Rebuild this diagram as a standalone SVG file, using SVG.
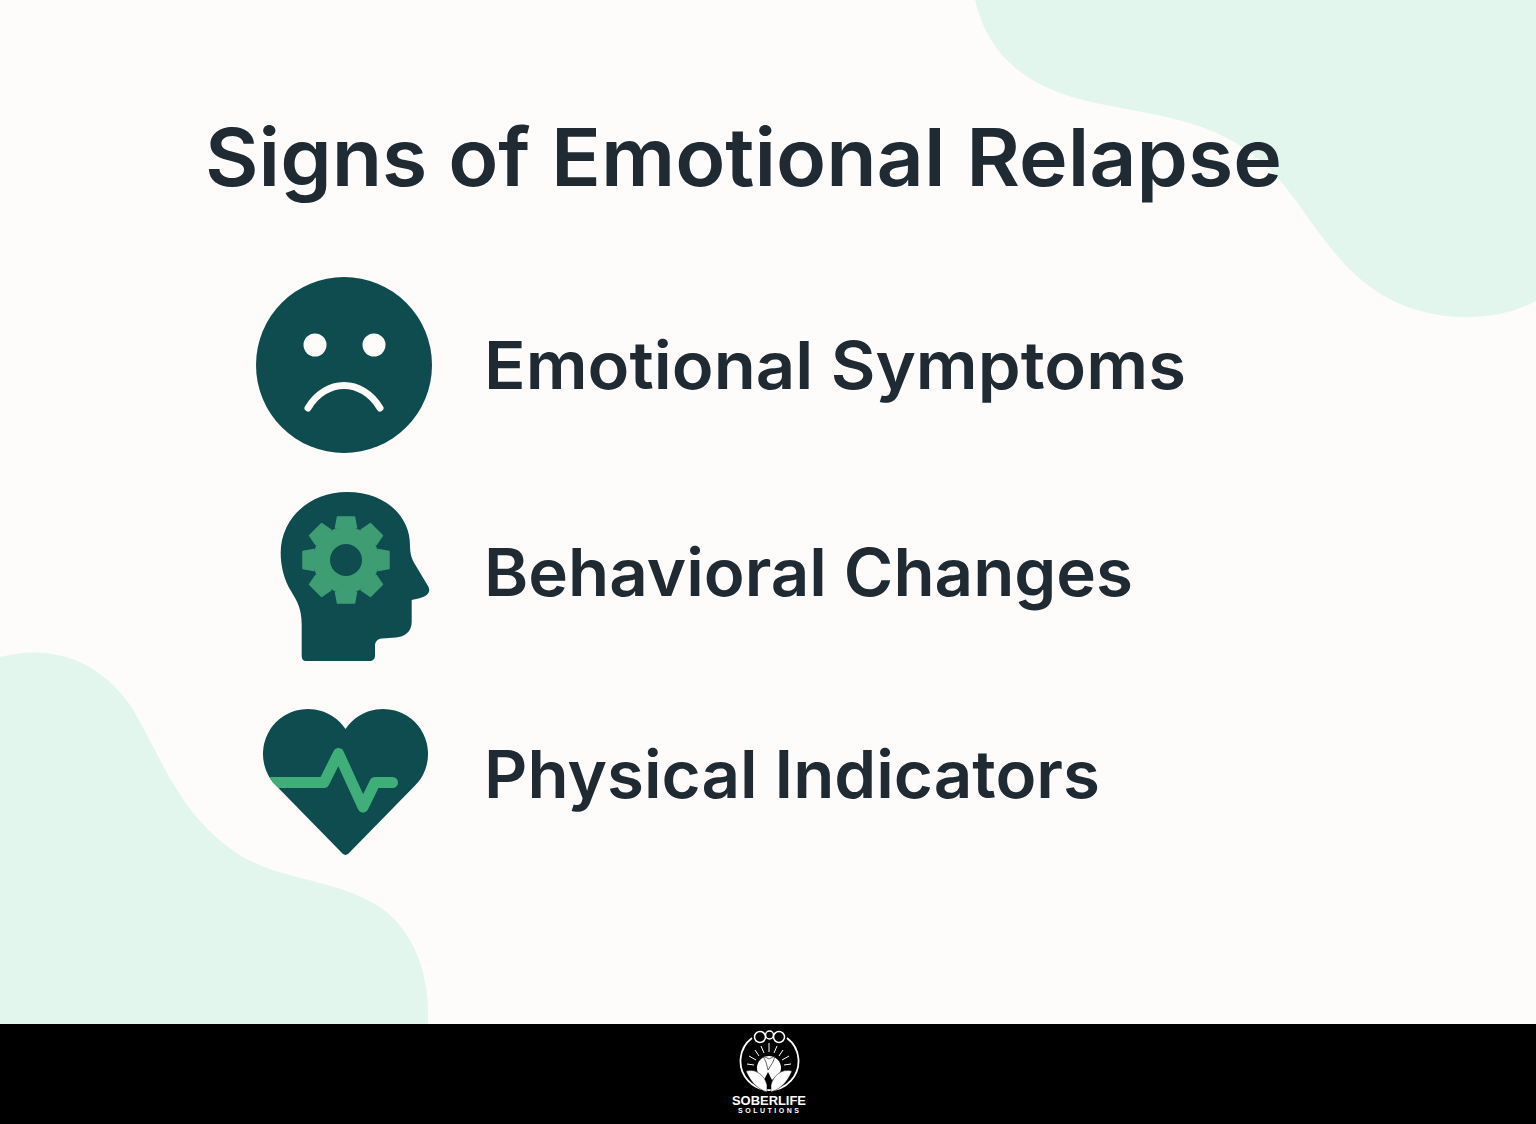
<svg xmlns="http://www.w3.org/2000/svg" width="1536" height="1124" viewBox="0 0 1536 1124">
<style>
.t{font-family:"Inter","Noto Sans","Liberation Sans",sans-serif;fill:#202A33}
.title{font-size:80px;font-weight:600}
.lab{font-size:66px;font-weight:600}
.dark{fill:#0E4C50}
.gear{fill:#3F9D74}
.logo{font-family:"Liberation Sans",Arial,sans-serif;fill:#fff;font-weight:700}
</style>
<defs>
<path id="heart" d="M345.500 729.100A45 45 0 1 0 276.200 785.800L341 852Q345.500 858 350 852L414.800 785.800A45 45 0 1 0 345.500 729.100Z"/>
<clipPath id="hc"><use href="#heart"/></clipPath>
<polygon id="tooth" class="gear" points="-10.500,-32 -8.500,-43 8.500,-43 10.500,-32" stroke="#3F9D74" stroke-width="1.500" stroke-linejoin="round"/>
</defs>
<rect width="1536" height="1124" fill="#FDFCFA"/>
<g id="blobs" fill="#E2F6EE">
<path d="M975 0C988 55 1025 88 1095 103C1170 118 1228 122 1278 178C1318 225 1345 290 1420 311C1462 322 1505 318 1536 301V0Z"/>
<path d="M0 657C45 645 95 655 130 705C160 752 175 810 235 852C275 880 335 878 380 907C415 932 430 975 428 1024H0Z"/>
</g>
<g id="title"><text class="t title" x="205" y="186" textLength="1077" lengthAdjust="spacingAndGlyphs">Signs of Emotional Relapse</text></g>
<g id="node-emotional">
<circle class="dark" cx="344" cy="365" r="88"/>
<circle cx="315" cy="345" r="11.500" fill="#FDFCFA"/>
<circle cx="374" cy="345" r="11.500" fill="#FDFCFA"/>
<path d="M308 408C326 378 362 378 380 408" fill="none" stroke="#FDFCFA" stroke-width="7" stroke-linecap="round"/>
<text class="t lab" x="484" y="389" textLength="702" lengthAdjust="spacingAndGlyphs">Emotional Symptoms</text>
</g>
<g id="node-behavioral">
<path class="dark" d="M280.700 553C280.700 518 310 492 347 492C385 492 410 516 410 545C410 555 412 560 416 566L428 586C431 591 428 595 423 597C418 599 414 599 411.700 600V622C411.700 632 404 637 396 637.500L382 638.500C377 639 375 642 375 646V655C375 659 373 661 369 661H306C303 661 301.700 659 301.700 656V625C301.700 608 297 601 291 591C284 580 280.700 566 280.700 553Z"/>
<g id="gear" transform="translate(346 560)">
<circle class="gear" r="33"/>
<use href="#tooth"/>
<use href="#tooth" transform="rotate(45)"/>
<use href="#tooth" transform="rotate(90)"/>
<use href="#tooth" transform="rotate(135)"/>
<use href="#tooth" transform="rotate(180)"/>
<use href="#tooth" transform="rotate(225)"/>
<use href="#tooth" transform="rotate(270)"/>
<use href="#tooth" transform="rotate(315)"/>
<circle class="dark" r="16"/>
</g>
<text class="t lab" x="484" y="596" textLength="649" lengthAdjust="spacingAndGlyphs">Behavioral Changes</text>
</g>
<g id="node-physical">
<use href="#heart" class="dark"/>
<g clip-path="url(#hc)"><path d="M255 782.500H324L338.500 753.500L363 807L375 782.500H392.500" fill="none" stroke="#3FAE78" stroke-width="11" stroke-linecap="round" stroke-linejoin="round"/></g>
<text class="t lab" x="484" y="798" textLength="616" lengthAdjust="spacingAndGlyphs">Physical Indicators</text>
</g>
<rect id="footer" y="1024" width="1536" height="100" fill="#000"/>
<g id="logo">
<path d="M752 1038A29 29 0 1 0 787 1038" fill="none" stroke="#fff" stroke-width="1.800"/>
<g fill="none" stroke="#fff" stroke-width="1.500">
<circle cx="760" cy="1037" r="5.500"/><circle cx="769.500" cy="1035" r="4"/><circle cx="779" cy="1037" r="5.500"/>
</g>
<g stroke="#fff" stroke-width="1">
<path d="M769 1043V1052M761 1046L764 1053M777 1046L774 1053M755 1050L759 1056M783 1050L779 1056M749 1056L756 1060M789 1056L782 1060M747 1064L754 1065M791 1064L784 1065"/>
</g>
<path d="M757 1068A12 12 0 0 1 781 1068C781 1074 777 1076 772 1080L768 1072L764 1080C760 1076 757 1074 757 1068Z" fill="#fff"/>
<path d="M763 1056L769 1059L775 1056L773 1062L768 1070L766 1062Z" fill="#fff" stroke="#000" stroke-width=".6"/>
<path d="M746 1071C756 1068 765 1076 767 1085L767 1092C758 1089 751 1083 746 1071ZM792 1071C782 1068 773 1076 771 1085L771 1092C780 1089 787 1083 792 1071Z" fill="#fff" stroke="#000" stroke-width=".5"/>
<text class="logo" x="732" y="1104.500" font-size="12.500" textLength="74" lengthAdjust="spacingAndGlyphs">SOBERLIFE</text>
<text class="logo" x="738" y="1113" font-size="7" textLength="61">SOLUTIONS</text>
</g>
</svg>
